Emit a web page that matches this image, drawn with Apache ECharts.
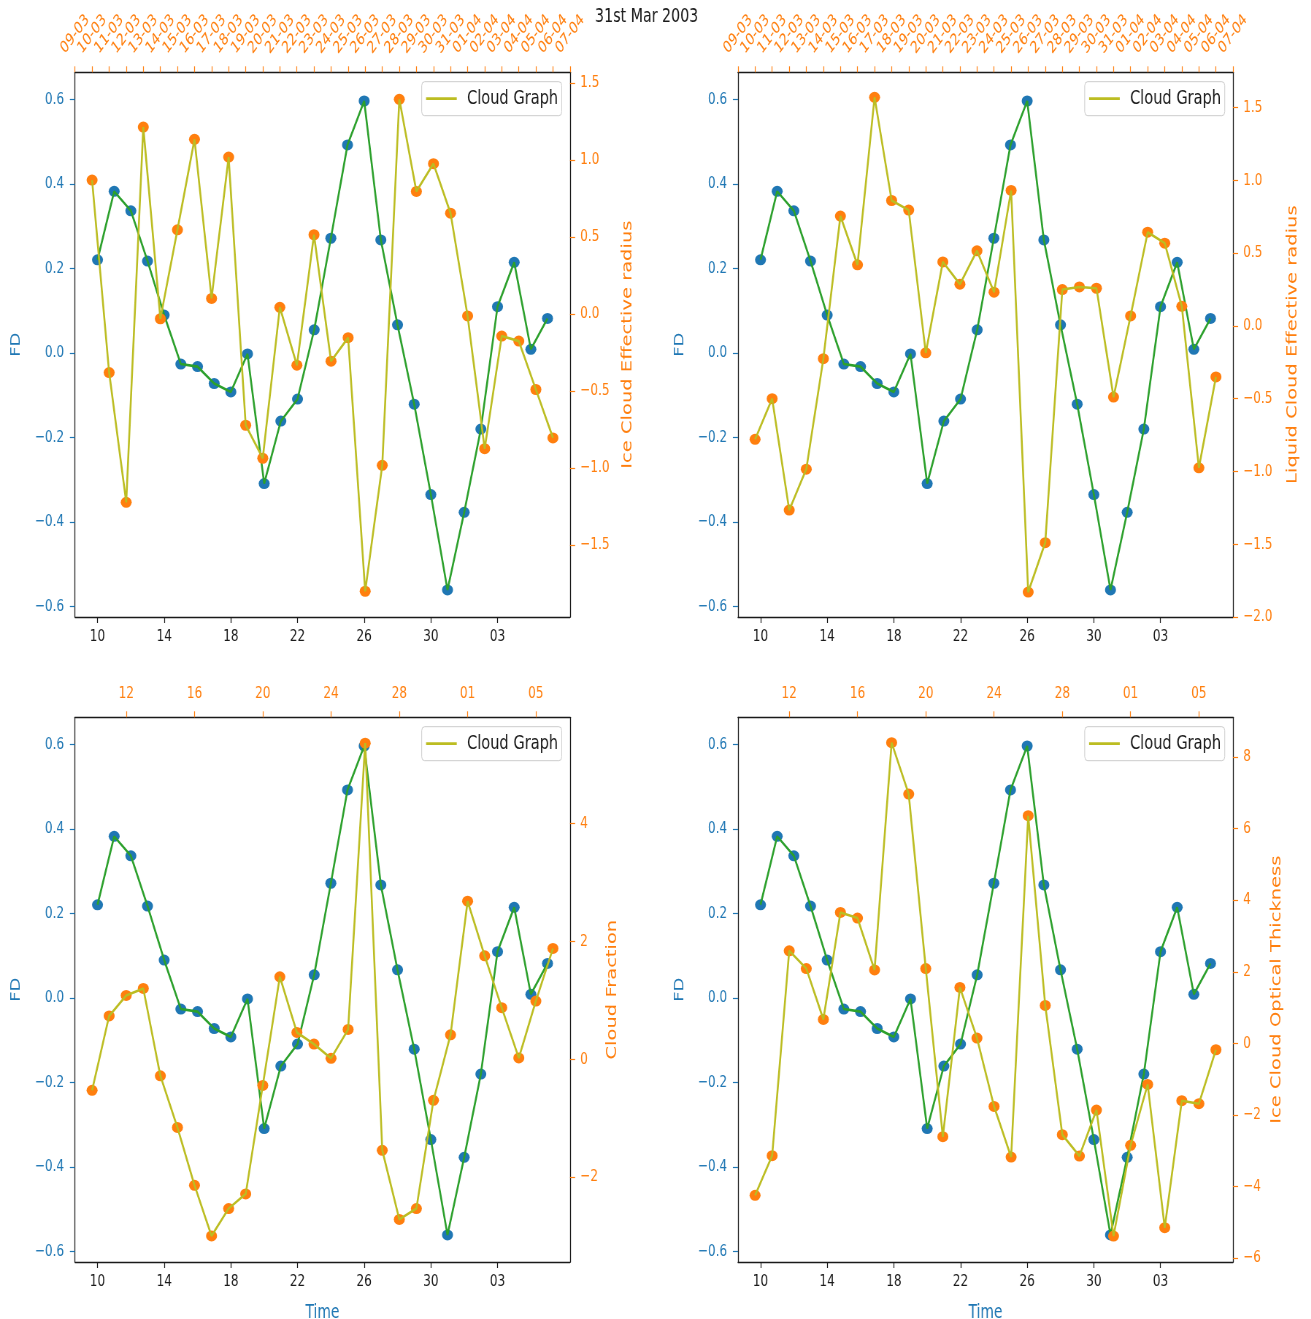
<!DOCTYPE html>
<html><head><meta charset="utf-8">
<script src="https://cdn.jsdelivr.net/npm/echarts@6/dist/echarts.min.js"></script>
<style>
html,body{margin:0;padding:0;background:#fff;overflow:hidden;}
#wrap{width:1311px;height:1319px;overflow:hidden;position:relative;background:#fff;}
#chart{width:1796px;height:1319px;transform:scaleX(0.73);transform-origin:0 0;}
</style></head><body>
<div id="wrap"><div id="chart"></div></div>
<script>
// ---------------- data ----------------
const dates = ['2003-03-10','2003-03-11','2003-03-12','2003-03-13','2003-03-14','2003-03-15','2003-03-16',
  '2003-03-17','2003-03-18','2003-03-19','2003-03-20','2003-03-21','2003-03-22','2003-03-23','2003-03-24',
  '2003-03-25','2003-03-26','2003-03-27','2003-03-28','2003-03-29','2003-03-30','2003-03-31','2003-04-01',
  '2003-04-02','2003-04-03','2003-04-04','2003-04-05','2003-04-06'];
const fd = [0.221, 0.383, 0.337, 0.218, 0.090, -0.026, -0.032, -0.072, -0.092, -0.002, -0.309, -0.161,
  -0.109, 0.055, 0.272, 0.493, 0.597, 0.268, 0.067, -0.121, -0.335, -0.561, -0.377, -0.180, 0.110, 0.215, 0.009, 0.082];
const iceEffRadius = [0.869, -0.380, -1.222, 1.213, -0.031, 0.546, 1.133, 0.101, 1.018, -0.722, -0.936, 0.043,
  -0.332, 0.514, -0.306, -0.154, -1.799, -0.982, 1.393, 0.795, 0.975, 0.654, -0.013, -0.874, -0.143, -0.176, -0.490, -0.804];
const liqEffRadius = [-0.779, -0.500, -1.265, -0.984, -0.225, 0.755, 0.420, 1.571, 0.862, 0.796, -0.185, 0.440,
  0.287, 0.516, 0.232, 0.931, -1.829, -1.489, 0.250, 0.268, 0.259, -0.489, 0.069, 0.644, 0.569, 0.135, -0.975, -0.350];
const cloudFraction = [-0.528, 0.736, 1.084, 1.202, -0.281, -1.157, -2.140, -3.000, -2.534, -2.287, -0.444, 1.400,
  0.455, 0.258, 0.017, 0.506, 5.367, -1.545, -2.719, -2.534, -0.697, 0.416, 2.684, 1.757, 0.876, 0.022, 0.989, 1.881];
const iceOpticalThickness = [-4.248, -3.140, 2.585, 2.090, 0.669, 3.657, 3.499, 2.050, 8.400, 6.966, 2.090, -2.609,
  1.562, 0.147, -1.762, -3.177, 6.360, 1.060, -2.553, -3.149, -1.864, -5.384, -2.851, -1.147, -5.151, -1.603, -1.687, -0.179];

// tick values / labels
const bottomTickDates = ['2003-03-10','2003-03-14','2003-03-18','2003-03-22','2003-03-26','2003-03-30','2003-04-03'];
const topDailyTickDates = ['2003-03-09','2003-03-10','2003-03-11','2003-03-12','2003-03-13','2003-03-14','2003-03-15',
  '2003-03-16','2003-03-17','2003-03-18','2003-03-19','2003-03-20','2003-03-21','2003-03-22','2003-03-23','2003-03-24',
  '2003-03-25','2003-03-26','2003-03-27','2003-03-28','2003-03-29','2003-03-30','2003-03-31','2003-04-01','2003-04-02',
  '2003-04-03','2003-04-04','2003-04-05','2003-04-06','2003-04-07'];
const topSparseTickDates = ['2003-03-12','2003-03-16','2003-03-20','2003-03-24','2003-03-28','2003-04-01','2003-04-05'];
const fdTicks = [-0.6, -0.4, -0.2, 0.0, 0.2, 0.4, 0.6];
const iceEffRadiusTicks = [-1.5, -1.0, -0.5, 0.0, 0.5, 1.0, 1.5];
const liqEffRadiusTicks = [-2.0, -1.5, -1.0, -0.5, 0.0, 0.5, 1.0, 1.5];
const cloudFractionTicks = [-2, 0, 2, 4];
const iceOpticalThicknessTicks = [-6, -4, -2, 0, 2, 4, 6, 8];
const topTitle = '31st Mar 2003';
const legendLabel = 'Cloud Graph';

// ---------------- helpers ----------------
const SX = 0.73;                 // horizontal squeeze of the reference picture
const X = px => px / SX;
const BASE = Date.UTC(2003, 2, 1);
const dayNum = s => { const [y, m, d] = s.split('-').map(Number); return (Date.UTC(y, m - 1, d) - BASE) / 864e5 + 1; };
const fromDay = v => new Date(BASE + (Math.round(v) - 1) * 864e5);
const pad = n => String(n).padStart(2, '0');
const fmtDD = v => pad(fromDay(v).getUTCDate());
const fmtDDMM = v => { const d = fromDay(v); return pad(d.getUTCDate()) + '-' + pad(d.getUTCMonth() + 1); };
const fmtNum = dec => v => { const s = Math.abs(v).toFixed(dec); return (v < -1e-9 ? '\u2212' : '') + s; };

const BLUE = '#1f77b4', ORANGE = '#ff7f0e', GREEN = '#2ca02c', OLIVE = '#bcbd22', INK = '#1a1a1a';
const FONT = 'DejaVu Sans';
const xDays = dates.map(dayNum);
const MARK = 11;
const ROT_MARGIN = 38;

const panels = [
  { left: 75, top: 72.3, name: 'Ice Cloud Effective radius', values: iceEffRadius, ticks: iceEffRadiusTicks, dec: 1,
    min: -1.966, max: 1.568, gap: 50.5, daily: true, time: false },
  { left: 738, top: 72.3, name: 'Liquid Cloud Effective radius', values: liqEffRadius, ticks: liqEffRadiusTicks, dec: 1,
    min: -2.0, max: 1.743, gap: 52.5, daily: true, time: false },
  { left: 75, top: 717.3, name: 'Cloud Fraction', values: cloudFraction, ticks: cloudFractionTicks, dec: 0,
    min: -3.442, max: 5.806, gap: 35, daily: false, time: true },
  { left: 738, top: 717.3, name: 'Ice Cloud Optical Thickness', values: iceOpticalThickness, ticks: iceOpticalThicknessTicks, dec: 0,
    min: -6.11, max: 9.11, gap: 36.5, daily: false, time: true }
];
const GW = 495, GH = 544.7;

const grid = [], xAxis = [], yAxis = [], series = [], legend = [];
const rotLabel = { color: ORANGE, fontSize: 16.5, fontFamily: FONT, rotate: -45, align: 'center', verticalAlign: 'middle',
  margin: ROT_MARGIN, showMinLabel: true, showMaxLabel: true, hideOverlap: false, formatter: fmtDDMM };
const edgeJobs = [];
panels.forEach((p, i) => {
  grid.push({ left: X(p.left), top: p.top, width: X(GW), height: GH, containLabel: false, outerBoundsMode: 'none' });
  const frame = { show: true, onZero: false, lineStyle: { color: INK, width: 1.3 } };
  const xb = xAxis.length;
  // bottom axis (FD dates)
  xAxis.push({
    type: 'value', gridIndex: i, position: 'bottom', min: 8.65, max: 38.35,
    axisLine: frame, splitLine: { show: false },
    axisTick: { show: true, length: 6, lineStyle: { color: INK, width: 1.2 }, customValues: bottomTickDates.map(dayNum) },
    axisLabel: { show: true, customValues: bottomTickDates.map(dayNum), formatter: fmtDD, color: INK, fontSize: 16.5,
      fontFamily: FONT, margin: 20, verticalAlign: 'middle', showMinLabel: true, showMaxLabel: true },
    name: p.time ? 'Time' : '', nameLocation: 'middle', nameGap: 42,
    nameTextStyle: { color: BLUE, fontSize: 19, fontFamily: FONT }
  });
  // top axis (cloud dates)
  const xt = xAxis.length;
  const topVals = (p.daily ? topDailyTickDates : topSparseTickDates).map(dayNum);
  if (p.daily) {
    // the two labels next to the axis ends would be dropped by the min/max overlap rule:
    // they are added afterwards as text placed with the axis' own scale
    const edgeVals = [topVals[1], topVals[topVals.length - 2]];
    const mainLabelVals = topVals.filter(v => edgeVals.indexOf(v) < 0);
    xAxis.push({
      type: 'value', gridIndex: i, position: 'top', min: 9, max: 38,
      axisLine: frame, splitLine: { show: false },
      axisTick: { show: true, length: 6, lineStyle: { color: ORANGE, width: 1.2 }, customValues: topVals },
      axisLabel: Object.assign({ show: true, customValues: mainLabelVals }, rotLabel)
    });
    edgeJobs.push({ axis: xt, top: p.top, vals: edgeVals });
  } else {
    xAxis.push({
      type: 'value', gridIndex: i, position: 'top', min: 9, max: 38,
      axisLine: frame, splitLine: { show: false },
      axisTick: { show: true, length: 6, lineStyle: { color: ORANGE, width: 1.2 }, customValues: topVals },
      axisLabel: { show: true, customValues: topVals, formatter: fmtDD, color: ORANGE, fontSize: 16.5, fontFamily: FONT,
        verticalAlign: 'middle', margin: 23.5, showMinLabel: true, showMaxLabel: true }
    });
  }
  const yl = yAxis.length;
  // left axis FD
  yAxis.push({
    type: 'value', gridIndex: i, position: 'left', min: -0.625, max: 0.665,
    axisLine: frame, splitLine: { show: false },
    axisTick: { show: true, length: 7, lineStyle: { color: BLUE, width: 1.2 }, customValues: fdTicks },
    axisLabel: { show: true, customValues: fdTicks, formatter: fmtNum(1), color: BLUE, fontSize: 16.5, fontFamily: FONT, margin: 15 },
    name: 'FD', nameLocation: 'middle', nameRotate: 90, nameGap: 71,
    nameTextStyle: { color: BLUE, fontSize: 18, fontFamily: FONT }
  });
  // right axis cloud variable
  yAxis.push({
    type: 'value', gridIndex: i, position: 'right', min: p.min, max: p.max,
    axisLine: frame, splitLine: { show: false },
    axisTick: { show: true, length: 7, lineStyle: { color: ORANGE, width: 1.2 }, customValues: p.ticks },
    axisLabel: { show: true, customValues: p.ticks, formatter: fmtNum(p.dec), color: ORANGE, fontSize: 16.5, fontFamily: FONT, margin: 14 },
    name: p.name, nameLocation: 'middle', nameRotate: 90, nameGap: X(p.gap),
    nameTextStyle: { color: ORANGE, fontSize: 19.5, fontFamily: FONT }
  });
  const fdPts = xDays.map((d, k) => [d, fd[k]]);
  const clPts = xDays.map((d, k) => [d, p.values[k]]);
  series.push({ type: 'scatter', name: 'FD points', xAxisIndex: xb, yAxisIndex: yl, data: fdPts,
    symbolSize: [X(MARK), MARK], itemStyle: { color: BLUE, opacity: 1 }, z: 2, silent: true });
  series.push({ type: 'line', name: 'FD', xAxisIndex: xb, yAxisIndex: yl, data: fdPts, showSymbol: false,
    symbol: 'none', lineStyle: { color: GREEN, width: 2.6 }, itemStyle: { color: GREEN }, z: 3, silent: true });
  series.push({ type: 'scatter', name: 'Cloud points', xAxisIndex: xt, yAxisIndex: yl + 1, data: clPts,
    symbolSize: [X(MARK), MARK], itemStyle: { color: ORANGE, opacity: 1 }, z: 4, silent: true });
  series.push({ type: 'line', name: legendLabel, xAxisIndex: xt, yAxisIndex: yl + 1, data: clPts, showSymbol: false,
    symbol: 'none', color: OLIVE, lineStyle: { color: OLIVE, width: 2.6 }, itemStyle: { color: OLIVE }, z: 5, silent: true });
  legend.push({
    data: [legendLabel], left: X(p.left + GW - 7.7 - 140.6), top: p.top + 9.4,
    orient: 'horizontal', icon: 'rect', itemWidth: 42, itemHeight: 2.8,
    padding: [7, 5, 7, 6], backgroundColor: 'rgba(255,255,255,0.85)', borderColor: '#cccccc', borderWidth: 1, borderRadius: 4,
    textStyle: { color: INK, fontSize: 20, fontFamily: FONT, padding: [0, 0, 0, 9] },
    selectedMode: false
  });
});

const titleGraphic = { type: 'text', left: X(595), top: 7, style: { text: topTitle, fill: INK, font: '19.5px "DejaVu Sans"' } };
const chart = echarts.init(document.getElementById('chart'), null, { renderer: 'canvas' });
chart.setOption({
  animation: false,
  backgroundColor: '#ffffff',
  textStyle: { fontFamily: FONT },
  grid, xAxis, yAxis, series, legend,
  graphic: [titleGraphic]
});
const edgeTexts = [];
edgeJobs.forEach(job => job.vals.forEach(v => {
  const px = chart.convertToPixel({ xAxisIndex: job.axis }, v);
  edgeTexts.push({ type: 'text', x: px, y: job.top - ROT_MARGIN, rotation: Math.PI / 4, silent: true, z: 10,
    style: { text: fmtDDMM(v), fill: ORANGE, font: '16.5px "DejaVu Sans"', align: 'center', verticalAlign: 'middle' } });
}));
chart.setOption({ graphic: [titleGraphic].concat(edgeTexts) });
</script>
</body></html>
